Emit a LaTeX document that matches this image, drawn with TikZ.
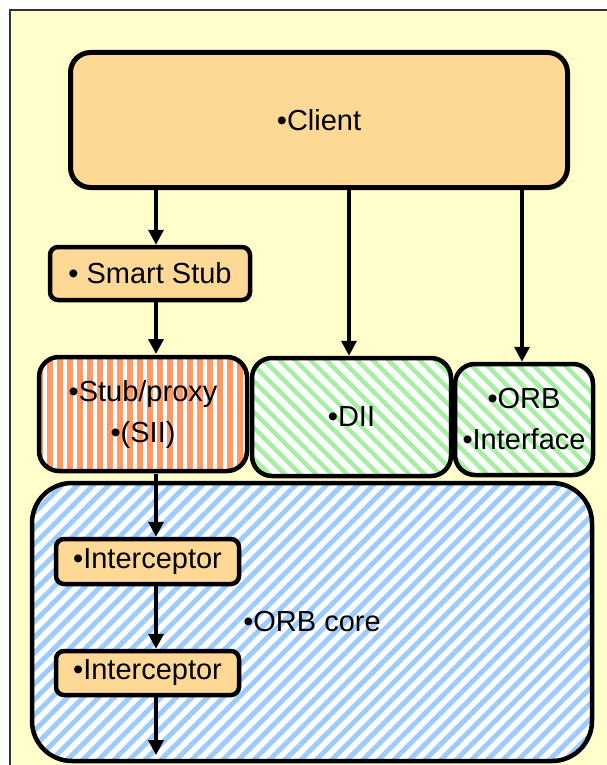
\documentclass[tikz,border=0pt]{standalone}
\usepackage{fontspec}
\setmainfont{Liberation Sans}
\usetikzlibrary{arrows.meta,patterns.meta}
\definecolor{bgyellow}{HTML}{FFFFCC}
\definecolor{boxorange}{HTML}{FDD995}
\definecolor{stuborange}{HTML}{FF9966}
\definecolor{diigreen}{HTML}{A4F0A0}
\definecolor{coreblue}{HTML}{9CCCFF}

\begin{document}
\begin{tikzpicture}[x=1pt, y=-1pt,
	blk/.style={draw, line width=4.5pt, inner sep=0pt, align=center, font=\fontsize{29}{41}\selectfont},
	box/.style={blk, fill=boxorange, rounded corners=8pt},
	arr/.style={line width=3.5pt, -{Triangle[width=15pt,length=15pt]}}]
	\useasboundingbox (0,0) rectangle (607,765);
	\clip (0,0) rectangle (607,765);
	\draw[fill=bgyellow, draw=black!80, line width=2pt] (10,10) rectangle (630,790);

	\node[box, line width=5pt, rounded corners=20pt, minimum width=497pt, minimum height=135pt] (client) at (319,120) {•Client};
	\node[box, minimum width=200pt, minimum height=53pt] (smart) at (150,273.5) {• Smart Stub};

	\node[blk, rounded corners=20pt, minimum width=208pt, minimum height=114pt, preaction={fill=white},
		pattern={Lines[angle=90, distance=10pt, line width=6pt]}, pattern color=stuborange] (stub) at (143,414) {•Stub/proxy\\•(SII)};
	\node[blk, rounded corners=20pt, minimum width=199pt, minimum height=118pt, preaction={fill=white},
		pattern={Lines[angle=-45, distance=11pt, line width=4.5pt]}, pattern color=diigreen] (dii) at (351.5,417) {•DII};
	\node[blk, rounded corners=20pt, minimum width=138pt, minimum height=111pt, preaction={fill=white},
		pattern={Lines[angle=-45, distance=11pt, line width=4.5pt]}, pattern color=diigreen] (orbi) at (524,419.5) {•ORB\\•Interface};
	\node[blk, rounded corners=40pt, minimum width=560pt, minimum height=278pt, preaction={fill=white},
		pattern={Lines[angle=45, distance=11pt, line width=5pt]}, pattern color=coreblue] (core) at (312,622) {•ORB core};

	\node[box, minimum width=183pt, minimum height=45pt] (int1) at (147.5,561.5) {•Interceptor};
	\node[box, minimum width=183pt, minimum height=44pt] (int2) at (147.5,673) {•Interceptor};

	\coordinate (colA) at (156,0);
	\coordinate (colB) at (349,0);
	\coordinate (colC) at (522,0);
	\coordinate (exit) at (156,755);

	\draw[arr] (client.south -| colA) -- (smart.north -| colA);
	\draw[arr] (smart.south -| colA) -- (stub.north -| colA);
	\draw[arr] (client.south -| colB) -- (dii.north -| colB);
	\draw[arr] (client.south -| colC) -- (orbi.north -| colC);
	\draw[arr] (stub.south -| colA) -- (int1.north -| colA);
	\draw[arr] (int1.south -| colA) -- (int2.north -| colA);
	\draw[arr] (int2.south -| colA) -- (exit);
\end{tikzpicture}
\end{document}
